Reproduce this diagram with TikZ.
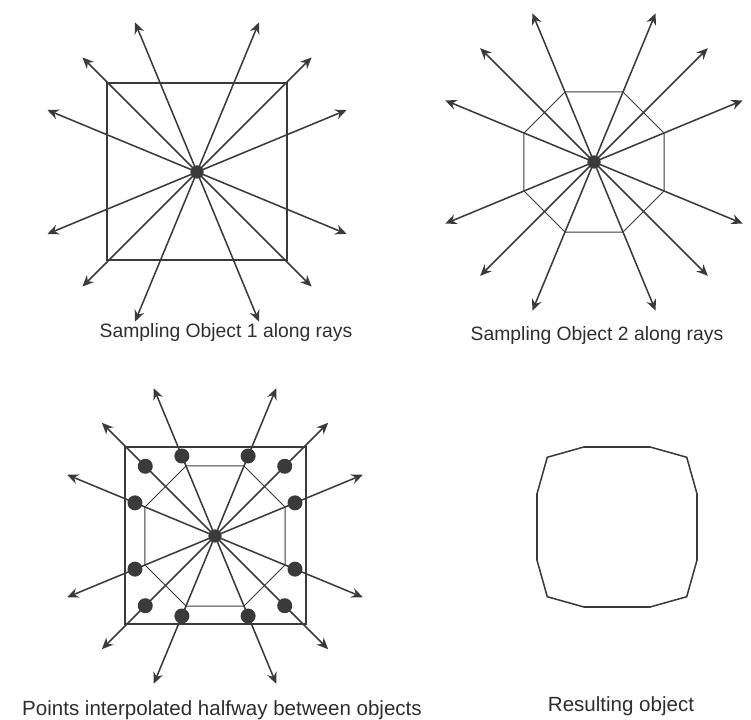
\documentclass[tikz,border=0pt]{standalone}
\usepackage{fontspec}
\setmainfont{Liberation Sans}
\usetikzlibrary{arrows.meta}
\definecolor{ink}{HTML}{3A3A3A}
\definecolor{textink}{HTML}{2E2E2E}
\begin{document}
\begin{tikzpicture}[x=0.75pt,y=-0.75pt,
  ray/.style={draw=ink, line width=1.15pt, -{Stealth[length=8.5pt,width=7.5pt,inset=2.8pt]}},
  outline/.style={draw=ink, line width=0.85pt, line join=miter},
  thinline/.style={draw=ink, line width=0.75pt, line join=miter},
  hub/.style={circle, fill=ink, inner sep=0pt, minimum size=9.75pt},
  sample/.style={circle, fill=ink, inner sep=0pt, minimum size=11.25pt},
  caption/.style={text=textink, font=\fontsize{14.5pt}{17pt}\selectfont, inner sep=0pt},
  bigcaption/.style={text=textink, font=\fontsize{15.4pt}{18pt}\selectfont, inner sep=0pt}
]
\useasboundingbox (0,0) rectangle (751,720);

% ---------- Object 1: square sampled along twelve rays ----------
\node[hub] (c1) at (197,172) {};
\draw[outline] ([shift={(-90,-89)}]c1.center) rectangle ([shift={(90,88)}]c1.center);
\foreach \a [count=\i] in {22.5,45,67.5,112.5,135,157.5,202.5,225,247.5,292.5,315,337.5}{
  \coordinate (ta\i) at ([shift={(\a:162)}]c1.center);
  \draw[ray] (c1.center) -- (ta\i);
}
\node[hub] at (c1) {};

% ---------- Object 2: octagon sampled along twelve rays ----------
\node[hub] (c2) at (594,162) {};
\draw[thinline] ([shift={(22.5:75.8)}]c2.center)
  \foreach \k in {1,...,7}{ -- ([shift={({22.5+45*\k}:75.8)}]c2.center) } -- cycle;
\foreach \a [count=\i] in {22.5,45,67.5,112.5,135,157.5,202.5,225,247.5,292.5,315,337.5}{
  \coordinate (tb\i) at ([shift={(\a:161)}]c2.center);
  \draw[ray] (c2.center) -- (tb\i);
}
\node[hub] at (c2) {};

% ---------- Both objects with the interpolated points ----------
\node[hub] (c3) at (215,536) {};
\draw[outline] ([shift={(-90,-89)}]c3.center) rectangle ([shift={(91,88)}]c3.center);
\draw[thinline] ([shift={(22.5:75.8)}]c3.center)
  \foreach \k in {1,...,7}{ -- ([shift={({22.5+45*\k}:75.8)}]c3.center) } -- cycle;
\foreach \a/\m [count=\i] in {22.5/86.6, 45/98.6, 67.5/86.6, 112.5/86.6, 135/98.6,
    157.5/86.6, 202.5/86.6, 225/98.6, 247.5/86.6, 292.5/86.6, 315/98.6, 337.5/86.6}{
  \coordinate (tc\i) at ([shift={(\a:160)}]c3.center);
  \draw[ray] (c3.center) -- (tc\i);
  \node[sample] (m\i) at ([shift={(\a:\m)}]c3.center) {};
}
\node[hub] at (c3) {};

% ---------- Resulting object through the interpolated points ----------
\coordinate (c4) at (617,527);
\foreach \a/\m [count=\i] in {22.5/86.6, 45/98.6, 67.5/86.6, 112.5/86.6, 135/98.6,
    157.5/86.6, 202.5/86.6, 225/98.6, 247.5/86.6, 292.5/86.6, 315/98.6, 337.5/86.6}{
  \coordinate (r\i) at ([shift={(\a:\m)}]c4);
}
\draw[outline, line width=1.15pt] (r1) \foreach \i in {2,...,12}{ -- (r\i) } -- cycle;

% ---------- Captions ----------
\node[caption] (cap1) at (226,333) {Sampling Object 1 along rays};
\node[caption] (cap2) at (597,336) {Sampling Object 2 along rays};
\node[bigcaption] (cap3) at (222,710) {Points interpolated halfway between objects};
\node[bigcaption] (cap4) at (621,706) {Resulting object};
\end{tikzpicture}
\end{document}
